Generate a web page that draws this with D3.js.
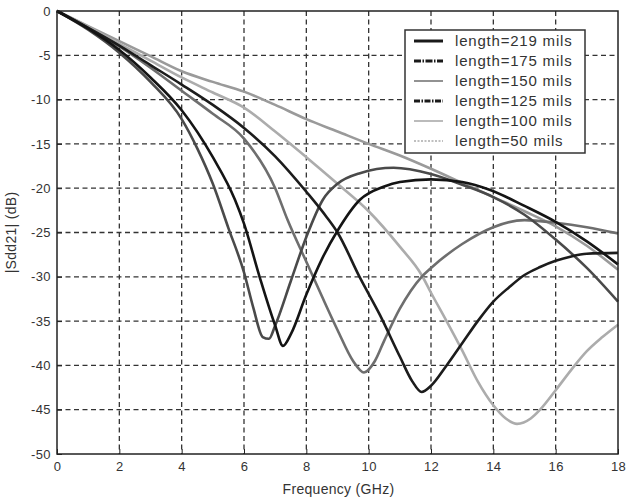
<!DOCTYPE html>
<html>
<head>
<meta charset="utf-8">
<script src="https://cdn.jsdelivr.net/npm/d3@7"></script>
<style>
  html, body { margin: 0; padding: 0; background: #fff; }
  svg { display: block; font-family: "Liberation Sans", Arial, sans-serif; }
</style>
</head>
<body>
<svg id="chart" width="638" height="504"></svg>
<script>
// ---- data ----
const xTicks = [0, 2, 4, 6, 8, 10, 12, 14, 16, 18];
const yTicks = [0, -5, -10, -15, -20, -25, -30, -35, -40, -45, -50];
const seriesNames = ["length=219 mils", "length=175 mils", "length=150 mils",
                     "length=125 mils", "length=100 mils", "length=50 mils"];

const freq219 = [0, 1, 2, 3, 4, 4.5, 5, 5.5, 6, 6.3, 6.6, 6.8, 7, 7.5, 8, 8.53, 9, 9.72, 10.8, 12, 13, 14, 15, 16, 17, 18];
const db219   = [0, -2.1, -4.7, -8, -12.2, -15.5, -19.5, -24.5, -29.5, -33.5, -36.8, -37, -35.5, -30.5, -25.5, -21.3, -19.5, -18.3, -17.7, -18.4, -19.6, -21, -23, -25.8, -29, -32.8];

const freq175 = [0, 1, 2, 3, 4, 5, 5.71, 6, 6.5, 7, 7.25, 7.5, 8, 8.5, 9, 9.72, 10.5, 11, 12, 13, 13.9, 15, 16, 17, 18];
const db175   = [0, -2, -4.4, -7.5, -11.2, -16.5, -21.3, -24, -30, -35.5, -37.8, -36.5, -32, -28, -24.8, -21.3, -19.8, -19.3, -19, -19.3, -20.2, -22, -23.8, -26, -28.6];

const freq150 = [0, 1, 2, 3, 4, 5, 6, 7, 7.4, 8, 8.5, 9, 9.5, 9.85, 10.2, 10.5, 11, 11.7, 12, 13, 14, 15, 16, 17, 18];
const db150   = [0, -1.9, -4, -6.4, -9, -11.6, -14.4, -20, -23.6, -28.3, -32.2, -36, -39.5, -40.8, -39.5, -37.2, -33.6, -30, -29, -26.3, -24.4, -23.6, -23.9, -24.4, -25.1];

const freq125 = [0, 1, 2, 3, 4, 5, 6, 7, 8, 8.66, 9, 9.72, 10.36, 11, 11.4, 11.7, 12, 12.5, 13, 13.5, 14, 14.5, 15, 15.5, 16, 16.5, 17, 18];
const db125   = [0, -1.9, -3.9, -6.1, -8.3, -10.6, -13.2, -16.4, -20.4, -23.3, -25, -30.1, -34.3, -39, -41.8, -43, -42.3, -40, -37.5, -35, -32.8, -31.2, -29.8, -28.9, -28.2, -27.7, -27.4, -27.3];

const freq100 = [0, 1, 2, 3, 4, 5, 6, 7, 8, 9, 10, 11, 11.7, 12, 12.5, 13, 13.5, 14, 14.4, 14.76, 15.2, 15.5, 16, 16.5, 17, 17.5, 18];
const db100   = [0, -1.8, -3.7, -5.6, -7.5, -9.2, -10.9, -13.6, -16.5, -19.5, -22.6, -26.6, -29.8, -31.8, -35, -38.3, -41.8, -44.5, -46, -46.6, -46, -45, -42.8, -40.5, -38.4, -36.8, -35.4];

const freq50 = [0, 1, 2, 3, 4, 5, 6, 7, 8, 9, 10, 11, 12, 13, 14, 15, 16, 17, 18];
const db50   = [0, -1.7, -3.4, -5.1, -6.8, -8, -9.1, -10.6, -12.2, -13.6, -15, -16.3, -17.8, -19.4, -21, -22.6, -24.3, -26.5, -29.2];

const allFreq = [freq219, freq175, freq150, freq125, freq100, freq50];
const allDb   = [db219, db175, db150, db125, db100, db50];

// ---- styles ----
const lineColors = ["#4a4a4a", "#141414", "#6e6e6e", "#1c1c1c", "#acacac", "#9a9a9a"];
const swatchColors = ["#1a1a1a", "#1a1a1a", "#777777", "#1a1a1a", "#aaaaaa", "#aaaaaa"];
const swatchDash = [null, "7,1.5,1.5,1.5", null, "6,1.5,1.5,1.5", null, "2,1.5"];
const swatchWidth = [3, 3, 1.6, 3, 1.6, 1.6];

const svg = d3.select("#chart");
const W = 638, H = 504;
svg.append("rect").attr("width", W).attr("height", H).attr("fill", "#fff");

const pLeft = 57, pRight = 618, pTop = 11, pBottom = 454;
const x = d3.scaleLinear().domain([0, 18]).range([pLeft, pRight]);
const y = d3.scaleLinear().domain([-50, 0]).range([pBottom, pTop]);

// grid
const grid = svg.append("g");
grid.selectAll(".vg").data(xTicks.slice(1, -1)).join("line")
  .attr("x1", d => x(d)).attr("x2", d => x(d))
  .attr("y1", pTop).attr("y2", pBottom)
  .attr("stroke", "#333").attr("stroke-width", 1.3).attr("stroke-dasharray", "5,3.5");
grid.selectAll(".hg").data(yTicks.slice(1, -1)).join("line")
  .attr("x1", pLeft).attr("x2", pRight)
  .attr("y1", d => y(d)).attr("y2", d => y(d))
  .attr("stroke", "#333").attr("stroke-width", 1.3).attr("stroke-dasharray", "5,3.5");

// axes
const xAxis = d3.axisBottom(x).tickValues(xTicks).tickSize(-5).tickPadding(8).tickFormat(d3.format("d"));
const yAxis = d3.axisLeft(y).tickValues(yTicks).tickSize(-5).tickPadding(6).tickFormat(d => String(d));

const gx = svg.append("g").attr("transform", `translate(0,${pBottom})`).call(xAxis);
const gy = svg.append("g").attr("transform", `translate(${pLeft},0)`).call(yAxis);
[gx, gy].forEach(g => {
  g.select(".domain").remove();
  g.selectAll(".tick line").attr("stroke", "#222");
  g.selectAll(".tick text").attr("fill", "#333").attr("font-size", 13)
    .attr("letter-spacing", 0.4)
    .attr("font-family", "'Liberation Sans', Arial, sans-serif");
});

// curves
const line = d3.line().x(d => x(d[0])).y(d => y(d[1])).curve(d3.curveMonotoneX);
const plot = svg.append("g");
const drawOrder = [5, 4, 2, 0, 3, 1];
drawOrder.forEach(i => {
  const pts = allFreq[i].map((f, k) => [f, allDb[i][k]]);
  plot.append("path").datum(pts)
    .attr("d", line)
    .attr("fill", "none")
    .attr("stroke", lineColors[i])
    .attr("stroke-width", 2.6)
    .attr("stroke-linejoin", "round");
});

// frame
svg.append("rect").attr("x", pLeft).attr("y", pTop)
  .attr("width", pRight - pLeft).attr("height", pBottom - pTop)
  .attr("fill", "none").attr("stroke", "#222").attr("stroke-width", 1.5);

// legend
const lg = svg.append("g");
const lx = 405, ly = 30, lw = 180, lh = 123;
lg.append("rect").attr("x", lx).attr("y", ly).attr("width", lw).attr("height", lh)
  .attr("fill", "#fff").attr("stroke", "#333").attr("stroke-width", 1.5);
seriesNames.forEach((name, i) => {
  const yy = ly + 11 + i * 20;
  lg.append("line").attr("x1", lx + 9).attr("x2", lx + 38)
    .attr("y1", yy).attr("y2", yy)
    .attr("stroke", swatchColors[i]).attr("stroke-width", swatchWidth[i])
    .attr("stroke-dasharray", swatchDash[i]);
  lg.append("text").attr("x", lx + 50).attr("y", yy + 5)
    .attr("font-size", 15).attr("letter-spacing", 0.8).attr("fill", "#333")
    .text(name);
});

// axis labels
svg.append("text").attr("x", (pLeft + pRight) / 2 + 1).attr("y", 494)
  .attr("text-anchor", "middle").attr("font-size", 14).attr("letter-spacing", 0.3).attr("fill", "#333")
  .text("Frequency (GHz)");
svg.append("text").attr("transform", `translate(16,${(pTop + pBottom) / 2}) rotate(-90)`)
  .attr("text-anchor", "middle").attr("font-size", 14).attr("letter-spacing", 0.3).attr("fill", "#333")
  .text("|Sdd21| (dB)");
</script>
</body>
</html>
